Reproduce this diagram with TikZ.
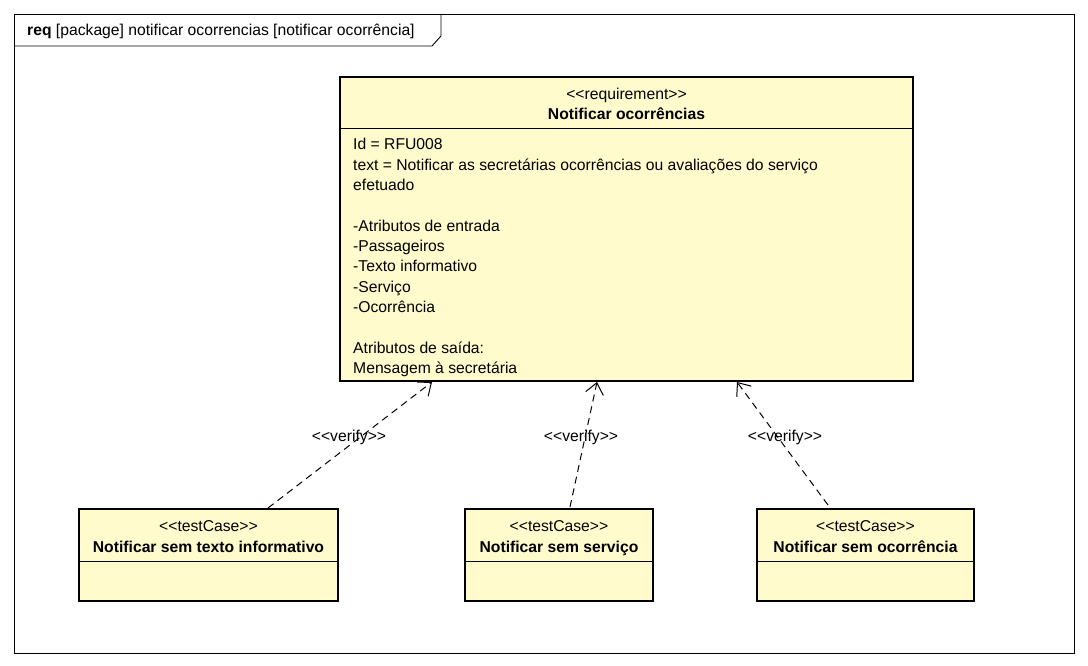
\documentclass[tikz,border=0pt]{standalone}
\usepackage{fontspec}
\setmainfont{Liberation Sans}
\usetikzlibrary{arrows.meta}
\definecolor{boxfill}{RGB}{255,251,204}
\newcommand{\lgl}{<{}<}
\newcommand{\rgr}{>{}>}
\begin{document}
\begin{tikzpicture}[x=1pt,y=-1pt,
  umlbox/.style={draw=black, line width=2.6pt, fill=boxfill},
  thin/.style={draw=black, line width=0.9pt},
  txt/.style={font=\fontsize{15.7}{20.3}\selectfont, inner sep=0pt},
  btxt/.style={font=\fontsize{15.7}{20.3}\selectfont\bfseries, inner sep=0pt},
  verif/.style={line width=1pt, dash pattern=on 7pt off 5pt,
    -{Straight Barb[length=11pt,width=18pt,line width=1pt]}}]
\useasboundingbox (0,0) rectangle (1088,666);
\fill[white] (0,0) rectangle (1088,666);
% frame
\draw[thin] (14,14) rectangle (1074,653);
\draw[thin] (14,46) -- (432,46) -- (441,36) -- (441,14);
\node[txt, anchor=base west] (title) at (27,36) {\textbf{req} [package] notificar ocorrencias [notificar ocorrência]};
% requirement
\draw[umlbox] (340,77) rectangle (913,381);
\draw[thin] (340,128) -- (913,128);
\node[txt, anchor=base] (reqst) at (626.5,100) {\lgl requirement\rgr};
\node[btxt, anchor=base] (reqname) at (626.5,120) {Notificar ocorrências};
\foreach \t [count=\i from 0] in {Id = RFU008,
  text = Notificar as secretárias ocorrências ou avaliações do serviço,
  efetuado, {}, -Atributos de entrada, -Passageiros, -Texto informativo,
  -Serviço, -Ocorrência, {}, Atributos de saída:, Mensagem à secretária}
  \node[txt, anchor=base west] (l\i) at (353,150+20.3*\i) {\t};
% test cases
\foreach \n/\xa/\xb/\name in {tc1/79/338/Notificar sem texto informativo,
  tc2/465/653/Notificar sem serviço, tc3/757/974/Notificar sem ocorrência}{
  \draw[umlbox] (\xa,509) rectangle (\xb,601);
  \draw[thin] (\xa,561) -- (\xb,561);
  \node[txt, anchor=base] (\n st) at ({(\xa+\xb)/2},531) {\lgl testCase\rgr};
  \node[btxt, anchor=base] (\n name) at ({(\xa+\xb)/2},552) {\name};
}
% connector endpoints
\coordinate (s1) at (268,508);
\coordinate (e1) at (432,382);
\coordinate (s2) at (570,507);
\coordinate (e2) at (597,382);
\coordinate (s3) at (828,505);
\coordinate (e3) at (737,382);
\draw[verif] (s1) -- (e1);
\draw[verif] (s2) -- (e2);
\draw[verif] (s3) -- (e3);
\node[txt, anchor=base] (v1) at (349,441) {\lgl verify\rgr};
\node[txt, anchor=base] (v2) at (581,441) {\lgl verify\rgr};
\node[txt, anchor=base] (v3) at (785,441) {\lgl verify\rgr};
\end{tikzpicture}
\end{document}
